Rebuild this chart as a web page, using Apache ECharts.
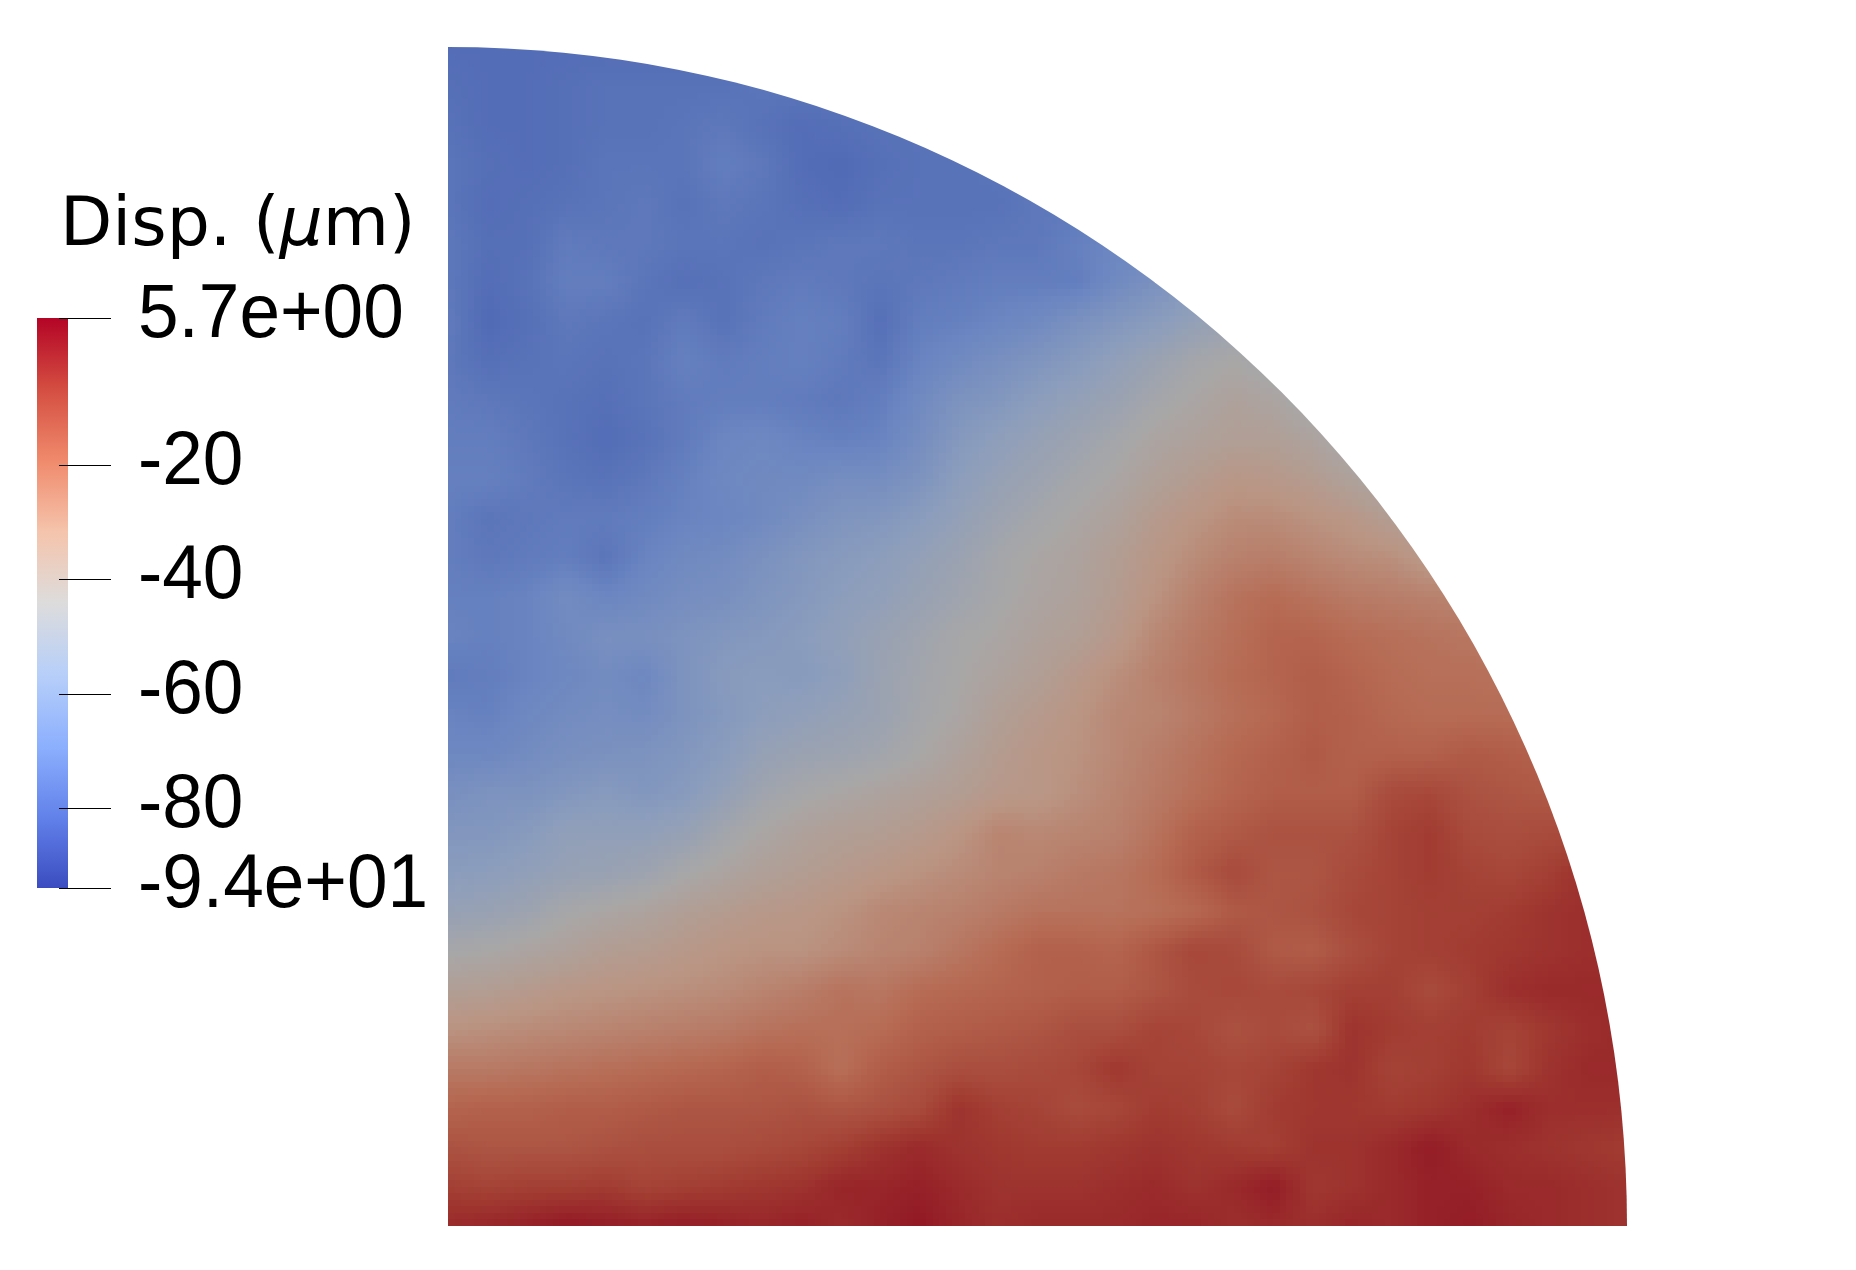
<!DOCTYPE html>
<html>
<head>
<meta charset="utf-8">
<title>Disp. field</title>
<script src="https://cdn.jsdelivr.net/npm/echarts@6/dist/echarts.min.js"></script>
<style>
  html, body { margin: 0; background: #fff; }
  #chart { width: 1856px; height: 1270px; }
</style>
</head>
<body>
<div id="chart"></div>
<script>
// colour scale limits and legend ticks
const valueMin = -94;
const valueMax = 5.7;
const tickValues = [5.7, -20, -40, -60, -80, -94];
const tickLabels = ['5.7e+00', '-20', '-40', '-60', '-80', '-9.4e+01'];
const legendColors = ['#3b4cc0', '#6282ea', '#8db0fe', '#b7cff9', '#dddcdc', '#f5c4ac', '#f08a6c', '#d44e41', '#b40426'];
// the surface is lit in the render, so it sits darker than the legend
const fieldColors = ['#2d3a92', '#4a63b2', '#6b86c1', '#8b9dbd', '#a8a7a7', '#ba9583', '#b66952', '#a13b31', '#89031d'];

// displacement at grid nodes, top row first, left to right
const gridSteps = 30;
const fieldRows = [
  [-78, -78],
  [-77, -78, -78, -77, -76, -76, -76, -76, -75],
  [-76, -78, -78, -77, -76, -76, -75, -74, -76, -78, -77, -76],
  [-75, -77, -78, -77, -75, -75, -75, -72, -74, -78, -79, -77, -76, -76, -75],
  [-75, -78, -77, -76, -75, -74, -76, -74, -75, -77, -78, -76, -76, -76, -76, -74],
  [-74, -77, -77, -73, -74, -74, -75, -75, -76, -75, -74, -74, -75, -75, -74, -74, -71, -69],
  [-74, -78, -76, -72, -72, -75, -77, -76, -74, -73, -74, -75, -74, -73, -72, -72, -72, -67, -63, -60],
  [-73, -79, -77, -74, -75, -76, -73, -76, -73, -71, -72, -77, -72, -71, -69, -67, -63, -60, -57, -53, -50],
  [-74, -77, -76, -75, -76, -75, -71, -73, -72, -71, -73, -75, -70, -67, -64, -61, -58, -54, -50, -46, -44, -47],
  [-73, -74, -75, -76, -77, -75, -73, -72, -72, -73, -74, -72, -67, -62, -60, -56, -53, -50, -46, -43, -40, -42, -47],
  [-72, -72, -74, -76, -78, -76, -73, -69, -68, -70, -71, -70, -65, -59, -55, -52, -49, -46, -42, -40, -38, -38, -41, -46],
  [-71, -71, -73, -75, -76, -74, -71, -68, -67, -67, -65, -65, -62, -56, -52, -49, -46, -43, -39, -36, -33, -34, -36, -40, -44],
  [-72, -75, -74, -73, -73, -72, -70, -69, -67, -64, -61, -60, -57, -53, -49, -46, -43, -40, -35, -32, -29, -29, -31, -33, -37, -41],
  [-72, -74, -73, -72, -75, -70, -67, -66, -63, -60, -58, -56, -53, -50, -46, -43, -41, -37, -33, -29, -26, -25, -27, -29, -30, -34],
  [-71, -71, -70, -66, -69, -67, -65, -64, -61, -59, -56, -54, -51, -48, -45, -42, -40, -36, -31, -26, -22, -20, -22, -24, -25, -26, -27],
  [-70, -71, -70, -67, -64, -64, -62, -60, -59, -57, -54, -51, -48, -45, -43, -40, -38, -34, -28, -24, -21, -18, -18, -20, -21, -22, -23],
  [-73, -72, -70, -68, -66, -68, -62, -58, -57, -58, -55, -50, -47, -44, -41, -38, -34, -30, -26, -23, -20, -18, -16, -18, -20, -21, -21, -22],
  [-70, -71, -68, -66, -65, -66, -62, -59, -56, -54, -52, -50, -46, -43, -38, -35, -32, -28, -27, -24, -21, -19, -16, -17, -19, -20, -20, -20, -21],
  [-68, -68, -66, -64, -63, -62, -60, -57, -52, -50, -49, -47, -44, -40, -36, -33, -31, -28, -25, -22, -19, -17, -15, -17, -17, -17, -15, -16, -17],
  [-64, -62, -62, -60, -58, -60, -58, -53, -48, -45, -43, -41, -39, -37, -34, -33, -30, -27, -24, -21, -18, -16, -16, -16, -11, -10, -13, -14, -15],
  [-60, -60, -58, -54, -54, -54, -52, -47, -43, -40, -38, -37, -35, -32, -27, -28, -27, -26, -22, -17, -15, -13, -13, -13, -9, -7, -11, -12, -11, -11],
  [-57, -56, -54, -52, -51, -49, -45, -42, -39, -37, -35, -33, -31, -29, -27, -26, -24, -23, -20, -15, -11, -14, -14, -11, -9, -7, -9, -10, -8, -4],
  [-52, -51, -49, -45, -43, -41, -38, -36, -34, -33, -31, -28, -27, -26, -24, -22, -22, -22, -21, -19, -15, -14, -13, -10, -9, -8, -8, -7, -5, -4],
  [-45, -44, -42, -40, -37, -36, -34, -32, -31, -31, -29, -27, -26, -23, -20, -17, -17, -18, -14, -10, -11, -15, -16, -12, -9, -8, -7, -6, -5, -4, -4],
  [-38, -37, -35, -33, -32, -31, -30, -29, -27, -25, -22, -23, -20, -19, -18, -17, -16, -16, -14, -11, -10, -11, -10, -8, -8, -11, -8, -4, -3, -3, -3],
  [-31, -30, -29, -28, -27, -26, -25, -24, -22, -21, -21, -20, -17, -16, -15, -14, -12, -12, -9, -10, -13, -11, -13, -5, -7, -8, -7, -9, -6, -4, -3],
  [-24, -24, -23, -22, -21, -20, -19, -18, -16, -17, -21, -16, -14, -12, -12, -11, -10, -6, -9, -9, -10, -9, -6, -5, -9, -8, -6, -10, -5, -3, -3],
  [-18, -17, -17, -16, -16, -15, -14, -14, -14, -13, -14, -13, -11, -5, -8, -9, -11, -10, -7, -8, -11, -7, -6, -6, -7, -6, -4, -1, -4, -4, -4],
  [-13, -14, -14, -14, -13, -12, -12, -12, -11, -10, -8, -5, -3, -5, -6, -7, -7, -6, -5, -6, -7, -8, -5, -5, -3, 0, -3, -4, -5, -6, -7],
  [-8, -9, -8, -8, -7, -9, -8, -7, -6, -5, -2, -2, -1, -3, -5, -5, -5, -4, -3, -5, -3, 0, -6, -5, -3, -1, -1, -3, -3, -4, -5],
  [-3, -2, -1, 1, 0, -1, 0, -1, -2, -1, -3, -1, 1, -2, -4, -3, -3, -3, -2, -2, -4, -3, -4, -2, -3, -1, 0, -2, -3, -4, -5]
];

const subSteps = 6; // shading steps inside one grid cell

const nodeValue = (i, j) => {
  const row = fieldRows[gridSteps - j];
  return row[Math.min(i, row.length - 1)];
};

const fieldColor = (value) =>
  echarts.color.lerp((value - valueMin) / (valueMax - valueMin), fieldColors);

const cells = [];
fieldRows.forEach((row, k) => {
  const j = gridSteps - k;
  row.forEach((value, i) => {
    if (j < gridSteps && i < gridSteps && i * i + j * j < gridSteps * gridSteps) cells.push([i, j, value]);
  });
});

// one cell: shaded between its four corner nodes, trimmed to the disc on the rim
const renderCell = (params, api) => {
  const i = api.value(0);
  const j = api.value(1);
  const v00 = nodeValue(i, j);
  const v10 = nodeValue(i + 1, j);
  const v01 = nodeValue(i, j + 1);
  const v11 = nodeValue(i + 1, j + 1);
  const children = [];
  for (let a = 0; a < subSteps; a++) {
    for (let b = 0; b < subSteps; b++) {
      const p0 = api.coord([i + a / subSteps, j + (b + 1) / subSteps]);
      const p1 = api.coord([i + (a + 1) / subSteps, j + b / subSteps]);
      const x0 = Math.round(p0[0]);
      const y0 = Math.round(p0[1]);
      const u = (a + 0.5) / subSteps;
      const w = (b + 0.5) / subSteps;
      const value = v00 * (1 - u) * (1 - w) + v10 * u * (1 - w) + v01 * (1 - u) * w + v11 * u * w;
      children.push({
        type: 'rect',
        shape: { x: x0, y: y0, width: Math.round(p1[0]) - x0, height: Math.round(p1[1]) - y0 },
        style: { fill: fieldColor(value) }
      });
    }
  }
  const cell = { type: 'group', children };
  if ((i + 1) * (i + 1) + (j + 1) * (j + 1) > gridSteps * gridSteps) {
    const center = api.coord([0, 0]);
    const radius = api.coord([gridSteps, 0])[0] - center[0];
    cell.clipPath = { type: 'circle', shape: { cx: center[0], cy: center[1], r: radius } };
  }
  return cell;
};

const renderColorBar = (params, api) => {
  const topRight = api.coord([1, valueMax]);
  const bottomLeft = api.coord([0, valueMin]);
  const colorStops = legendColors.map((color, index) => ({
    offset: 1 - index / (legendColors.length - 1),
    color
  }));
  return {
    type: 'rect',
    shape: {
      x: bottomLeft[0],
      y: topRight[1],
      width: topRight[0] - bottomLeft[0],
      height: bottomLeft[1] - topRight[1]
    },
    style: { fill: new echarts.graphic.LinearGradient(0, 0, 0, 1, colorStops) }
  };
};

// tick mark and its label; the mark starts inside the bar
const renderTick = (params, api) => {
  const point = api.coord([1, api.value(0)]);
  const tickY = Math.round(point[1]) + 0.5;
  return {
    type: 'group',
    children: [
      {
        type: 'line',
        shape: { x1: point[0] - 9, y1: tickY, x2: point[0] + 43, y2: tickY },
        style: { stroke: '#000', lineWidth: 1 }
      },
      {
        type: 'text',
        x: point[0] + 70,
        y: point[1] - 2,
        scaleX: 0.96,
        style: {
          text: tickLabels[params.dataIndex],
          fill: '#000',
          font: '76px "Liberation Sans"',
          textAlign: 'left',
          textVerticalAlign: 'middle'
        }
      }
    ]
  };
};

const chart = echarts.init(document.getElementById('chart'), null, { renderer: 'canvas' });
chart.setOption({
  animation: false,
  backgroundColor: '#fff',
  title: {
    left: 60,
    top: 193,
    padding: 0,
    text: '{a|Disp. (}{b|μ}{a|m)}',
    textStyle: {
      rich: {
        a: { fontFamily: 'DejaVu Sans', fontWeight: 'normal', fontSize: 68, color: '#000' },
        b: { fontFamily: 'DejaVu Sans', fontWeight: 'normal', fontStyle: 'italic', fontSize: 68, color: '#000' }
      }
    }
  },
  grid: [
    { left: 448, top: 47, width: 1179, height: 1179 },
    { left: 37, top: 318, width: 31, height: 570 }
  ],
  xAxis: [
    { type: 'value', min: 0, max: gridSteps, show: false },
    { type: 'value', gridIndex: 1, min: 0, max: 1, show: false }
  ],
  yAxis: [
    { type: 'value', min: 0, max: gridSteps, show: false },
    { type: 'value', gridIndex: 1, min: valueMin, max: valueMax, show: false }
  ],
  series: [
    {
      type: 'custom',
      silent: true,
      progressive: 0,
      renderItem: renderCell,
      encode: { x: 0, y: 1 },
      data: cells
    },
    {
      type: 'custom',
      silent: true,
      xAxisIndex: 1,
      yAxisIndex: 1,
      renderItem: renderColorBar,
      data: [[valueMin, valueMax]],
      encode: { y: [0, 1] }
    },
    {
      type: 'custom',
      silent: true,
      z: 3,
      xAxisIndex: 1,
      yAxisIndex: 1,
      renderItem: renderTick,
      data: tickValues.map((value) => [value]),
      encode: { y: 0 }
    }
  ]
});
</script>
</body>
</html>
